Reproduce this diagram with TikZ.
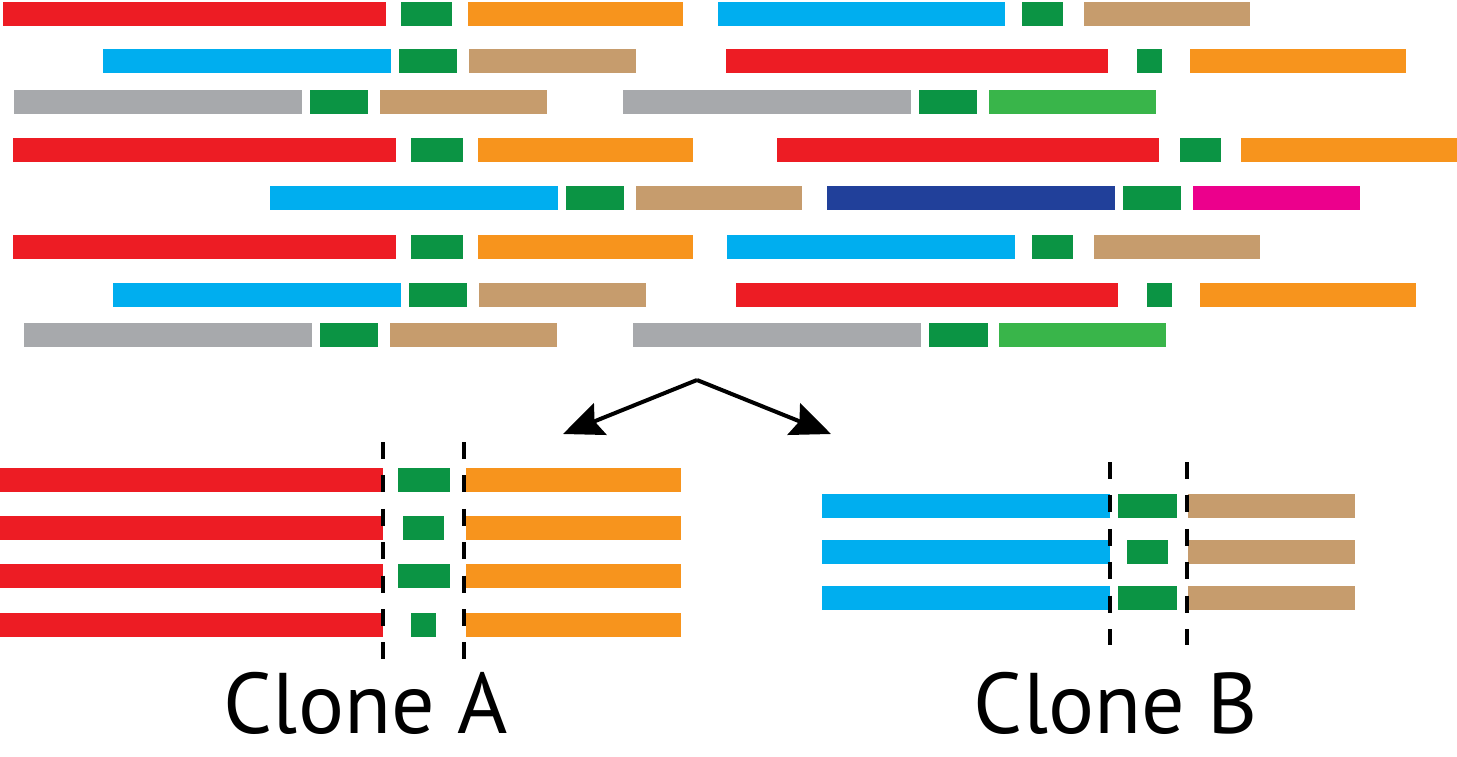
\documentclass[tikz,border=0pt]{standalone}
\usepackage{fontspec}
\setmainfont{PT Sans}
\usetikzlibrary{arrows.meta}
\definecolor{cred}{HTML}{ED1C24}
\definecolor{cgreen}{HTML}{0B9444}
\definecolor{corange}{HTML}{F7941D}
\definecolor{cblue}{HTML}{00AEEF}
\definecolor{ctan}{HTML}{C69C6D}
\definecolor{cgray}{HTML}{A7A9AC}
\definecolor{clgreen}{HTML}{39B54A}
\definecolor{cnavy}{HTML}{21409A}
\definecolor{cmag}{HTML}{EC008C}
\newcommand{\segbar}[4]{\fill[#4] (#1,#3) rectangle (#2,#3+24);}
\tikzset{
  cutline/.style={line width=2pt, dash pattern=on 8.5pt off 8.2pt},
  splitarrow/.style={line width=2pt, -{Stealth[length=20pt,width=17pt,inset=3pt]}},
  clonelabel/.style={font=\fontsize{43}{48}\selectfont, inner sep=0pt, anchor=base}
}
\begin{document}
\begin{tikzpicture}[x=0.5pt,y=-0.5pt]
\useasboundingbox (0,0) rectangle (1457,756);
% row 1
\segbar{3}{386}{2}{cred}\segbar{401}{452}{2}{cgreen}\segbar{468}{683}{2}{corange}
\segbar{718}{1005}{2}{cblue}\segbar{1022}{1063}{2}{cgreen}\segbar{1084}{1250}{2}{ctan}
% row 2
\segbar{103}{391}{49}{cblue}\segbar{399}{457}{49}{cgreen}\segbar{469}{636}{49}{ctan}
\segbar{726}{1108}{49}{cred}\segbar{1137}{1162}{49}{cgreen}\segbar{1190}{1406}{49}{corange}
% row 3
\segbar{14}{302}{90}{cgray}\segbar{310}{368}{90}{cgreen}\segbar{380}{547}{90}{ctan}
\segbar{623}{911}{90}{cgray}\segbar{919}{977}{90}{cgreen}\segbar{989}{1156}{90}{clgreen}
% row 4
\segbar{13}{396}{138}{cred}\segbar{411}{463}{138}{cgreen}\segbar{478}{693}{138}{corange}
\segbar{777}{1159}{138}{cred}\segbar{1180}{1221}{138}{cgreen}\segbar{1241}{1457}{138}{corange}
% row 5
\segbar{270}{558}{186}{cblue}\segbar{566}{624}{186}{cgreen}\segbar{636}{802}{186}{ctan}
\segbar{827}{1115}{186}{cnavy}\segbar{1123}{1181}{186}{cgreen}\segbar{1193}{1360}{186}{cmag}
% row 6
\segbar{13}{396}{235}{cred}\segbar{411}{463}{235}{cgreen}\segbar{478}{693}{235}{corange}
\segbar{727}{1015}{235}{cblue}\segbar{1032}{1073}{235}{cgreen}\segbar{1094}{1260}{235}{ctan}
% row 7
\segbar{113}{401}{283}{cblue}\segbar{409}{467}{283}{cgreen}\segbar{479}{646}{283}{ctan}
\segbar{736}{1118}{283}{cred}\segbar{1147}{1172}{283}{cgreen}\segbar{1200}{1416}{283}{corange}
% row 8
\segbar{24}{312}{323}{cgray}\segbar{320}{378}{323}{cgreen}\segbar{390}{557}{323}{ctan}
\segbar{633}{921}{323}{cgray}\segbar{929}{988}{323}{cgreen}\segbar{999}{1166}{323}{clgreen}
% arrows
\coordinate (apex) at (697,380);
\coordinate (toA) at (563,434);
\coordinate (toB) at (831,434);
\draw[splitarrow] (apex) -- (toA);
\draw[splitarrow] (apex) -- (toB);
% Clone A
\foreach \y in {468,516,564,613}{\segbar{0}{383}{\y}{cred}\segbar{466}{681}{\y}{corange}}
\segbar{398}{450}{468}{cgreen}
\segbar{403}{444}{516}{cgreen}
\segbar{398}{450}{564}{cgreen}
\segbar{411}{436}{613}{cgreen}
\coordinate (a1t) at (383,442); \coordinate (a1b) at (383,659);
\coordinate (a2t) at (464,442); \coordinate (a2b) at (464,659);
\draw[cutline] (a1t) -- (a1b);
\draw[cutline] (a2t) -- (a2b);
% Clone B
\foreach \y in {494,540,586}{\segbar{822}{1110}{\y}{cblue}\segbar{1188}{1355}{\y}{ctan}}
\segbar{1118}{1177}{494}{cgreen}
\segbar{1127}{1168}{540}{cgreen}
\segbar{1118}{1177}{586}{cgreen}
\coordinate (b1t) at (1110,462); \coordinate (b1b) at (1110,645);
\coordinate (b2t) at (1187,462); \coordinate (b2b) at (1187,645);
\draw[cutline] (b1t) -- (b1b);
\draw[cutline] (b2t) -- (b2b);
% labels
\node[clonelabel] (labA) at (366,733) {Clone A};
\node[clonelabel] (labB) at (1116,733) {Clone B};
\end{tikzpicture}
\end{document}
